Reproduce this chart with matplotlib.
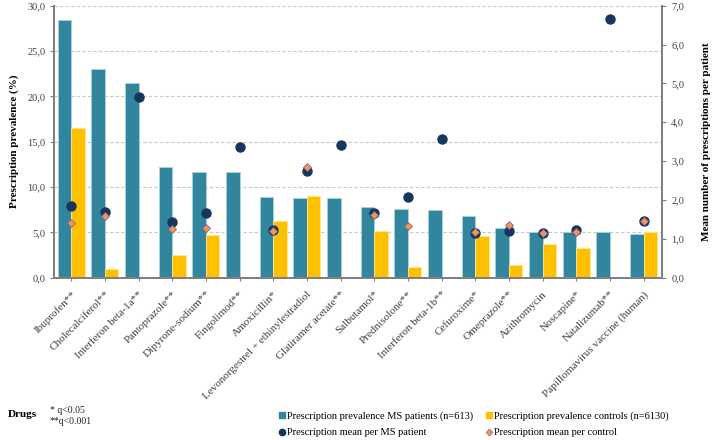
import matplotlib
matplotlib.use("Agg")
from matplotlib import pyplot as plt
from matplotlib.lines import Line2D
from matplotlib.ticker import FuncFormatter
import numpy as np

plt.rcParams['font.family'] = ['Liberation Serif', 'DejaVu Serif']

drugs = ['Ibuprofen**', 'Cholecalciferol**', 'Interferon beta-1a**',
         'Pantoprazole**', 'Dipyrone-sodium**', 'Fingolimod**',
         'Amoxicillin*', 'Levonorgestrel + ethinylestradiol',
         'Glatiramer acetate**', 'Salbutamol*', 'Prednisolone**',
         'Interferon beta-1b**', 'Cefuroxime*', 'Omeprazole**',
         'Azithromycin', 'Noscapine*', 'Natalizumab**',
         'Papillomavirus vaccine (human)']

prev_ms = [28.4, 23.0, 21.5, 12.2, 11.7, 11.7, 8.9, 8.8, 8.8,
           7.8, 7.6, 7.5, 6.8, 5.5, 5.0, 5.0, 5.0, 4.85]
prev_ctrl = [16.5, 1.0, 0.0, 2.5, 4.7, 0.0, 6.3, 9.0, 0.0,
             5.2, 1.15, 0.0, 4.6, 1.4, 3.7, 3.3, 0.0, 5.0]
mean_ms = [1.85, 1.69, 4.64, 1.43, 1.66, 3.37, 1.23, 2.74, 3.41,
           1.67, 2.08, 3.56, 1.14, 1.19, 1.16, 1.23, 6.65, 1.47]
mean_ctrl = [1.40, 1.59, None, 1.24, 1.28, None, 1.21, 2.84, None,
             1.62, 1.32, None, 1.18, 1.35, 1.14, 1.18, None, 1.47]

teal = '#31859C'
yellow = '#FFC000'
navy = '#17365D'
orange = '#F79646'
purple = '#8064A2'
axcol = '#7F7F7F'
txtcol = '#404040'

fig = plt.figure(figsize=(7.12, 4.40), dpi=100)
ax = fig.add_axes([0.0763, 0.3689, 0.8537, 0.6182])
ax2 = ax.twinx()

x = np.arange(len(drugs))
w = 0.4
ax.bar(x - w / 2, prev_ms, w, color=teal, edgecolor='#A9D4DF', linewidth=0.6, zorder=2)
ax.bar(x + w / 2, prev_ctrl, w, color=yellow, edgecolor='#FFE699', linewidth=0.6, zorder=2)

ax.set_xlim(-0.5, len(drugs) - 0.45)
ax.set_ylim(0, 30)
ax.set_yticks(np.arange(0, 31, 5))
ax.yaxis.grid(True, linestyle=(0, (3, 2)), color='#C8C8C8', linewidth=0.8, zorder=0)
ax.set_axisbelow(True)

comma = FuncFormatter(lambda v, p: ('%.1f' % v).replace('.', ','))
ax.yaxis.set_major_formatter(comma)
ax2.yaxis.set_major_formatter(comma)

ax2.set_ylim(0, 7)
ax2.set_yticks(np.arange(0, 8, 1))

cx = [i for i, v in enumerate(mean_ctrl) if v is not None]
cy = [v for v in mean_ctrl if v is not None]
ax2.plot(x, mean_ms, 'o', color=navy, markersize=6.5, zorder=3)
ax2.plot(cx, cy, 'D', color=orange, markeredgecolor=purple, markeredgewidth=0.6,
         markersize=4.2, zorder=4)

ax.set_xticks(x)
ax.set_xticklabels(drugs, rotation=45, ha='right', va='top', rotation_mode='anchor',
                   fontsize=8, color=txtcol)
ax.tick_params(axis='x', length=2.5, pad=6, color=axcol)
ax.tick_params(axis='y', labelsize=7.5, colors=txtcol, length=3, color=axcol)
ax2.tick_params(axis='y', labelsize=7.5, colors=txtcol, length=3, color=axcol)

for a in (ax, ax2):
    a.spines['top'].set_visible(False)
    for s in ('left', 'right', 'bottom'):
        a.spines[s].set_color(axcol)
        a.spines[s].set_linewidth(1.3)

ax.set_ylabel('Prescription prevalence (%)', fontsize=8, fontweight='bold', labelpad=6)
ax2.set_ylabel('Mean number of prescriptions per patient', fontsize=8,
               fontweight='bold', labelpad=13)

fig.text(0.011, 0.059, 'Drugs', fontsize=8, fontweight='bold', va='center')
fig.text(0.070, 0.068, '* q<0.05', fontsize=7, va='center', color='#222222')
fig.text(0.070, 0.043, '**q<0.001', fontsize=7, va='center', color='#222222')

handles = [
    Line2D([], [], marker='s', color=teal, linestyle='none', markersize=4.5),
    Line2D([], [], marker='o', color=navy, linestyle='none', markersize=4.5),
    Line2D([], [], marker='s', color=yellow, linestyle='none', markersize=4.5),
    Line2D([], [], marker='D', color=orange, markeredgecolor=purple,
           markeredgewidth=0.5, linestyle='none', markersize=3.5),
]
labels = ['Prescription prevalence MS patients (n=613)',
          'Prescription mean per MS patient',
          'Prescription prevalence controls (n=6130)',
          'Prescription mean per control']
fig.legend(handles, labels, ncol=2, loc='upper left', bbox_to_anchor=(0.392, 0.066),
           frameon=False, fontsize=7.5, handlelength=0.6, handletextpad=0.2,
           columnspacing=1.2, labelspacing=0.7, borderpad=0, borderaxespad=0)

fig.savefig('out.png', dpi=100)
